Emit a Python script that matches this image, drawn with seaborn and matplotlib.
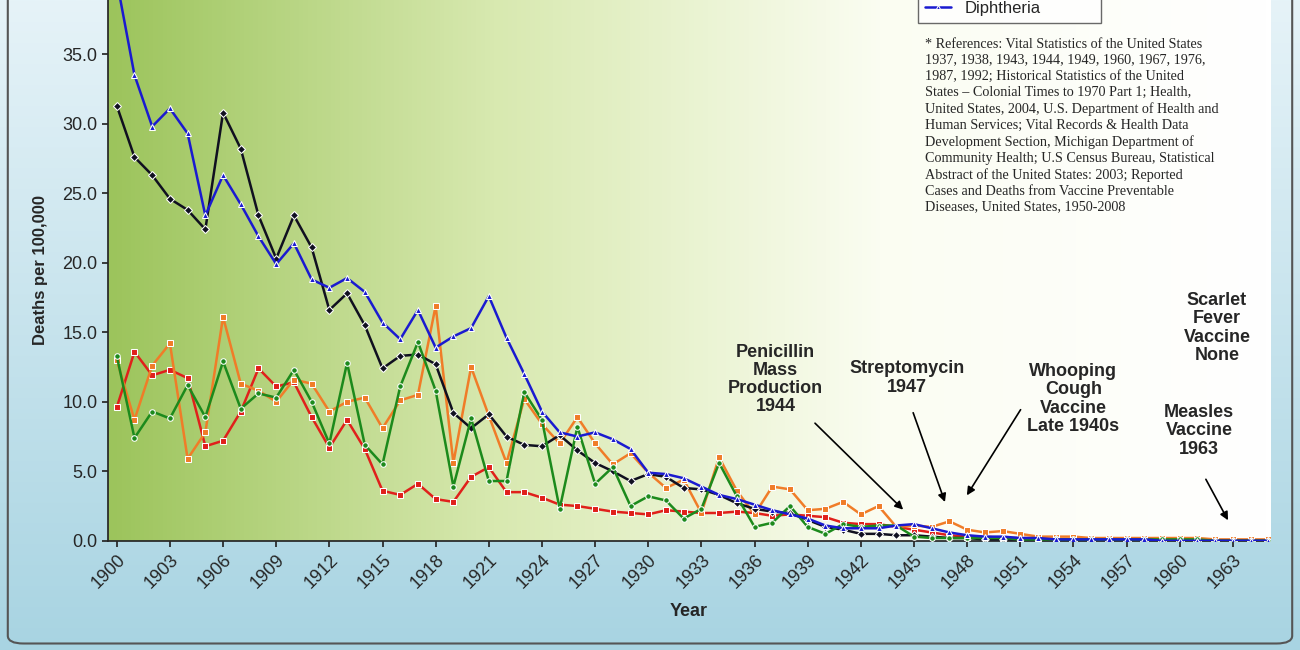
import numpy as np
import matplotlib
matplotlib.use("Agg")
import matplotlib.pyplot as plt
import seaborn as sns
import pandas as pd
from matplotlib.patches import FancyBboxPatch
from matplotlib.colors import LinearSegmentedColormap

years = list(range(1900, 1966))

diphtheria = [40.3, 33.5, 29.8, 31.1, 29.3, 23.4, 26.3, 24.2, 21.9, 19.9, 21.4, 18.8, 18.2, 18.9, 17.9,
              15.7, 14.5, 16.6, 13.9, 14.7, 15.3, 17.6, 14.6, 12.0, 9.3, 7.8, 7.5, 7.8, 7.3, 6.6,
              4.9, 4.8, 4.5, 3.9, 3.3, 3.0, 2.6, 2.2, 1.9, 1.6, 1.1, 0.9, 0.9, 0.9, 1.1, 1.2,
              0.9, 0.6, 0.4, 0.3, 0.3, 0.2, 0.2, 0.1, 0.1, 0.1, 0.1, 0.1, 0.1, 0.0, 0.0, 0.0,
              0.0, 0.0, 0.0, 0.0]
black_series = [31.3, 27.6, 26.3, 24.6, 23.8, 22.4, 30.8, 28.2, 23.4, 20.3, 23.4, 21.1, 16.6, 17.8, 15.5,
                12.4, 13.3, 13.4, 12.7, 9.2, 8.1, 9.1, 7.5, 6.9, 6.8, 7.6, 6.5, 5.6, 5.0, 4.3,
                4.8, 4.6, 3.8, 3.7, 3.3, 2.7, 2.3, 2.1, 2.0, 1.5, 1.0, 0.8, 0.5, 0.5, 0.4, 0.4,
                0.3, 0.2, 0.2, 0.1, 0.1, 0.1, 0.1, 0.1, 0.0, 0.0, 0.0, 0.0, 0.0, 0.0, 0.0, 0.0,
                0.0, 0.0, 0.0, 0.0]
orange_series = [13.0, 8.7, 12.6, 14.2, 5.9, 7.8, 16.1, 11.3, 10.8, 10.0, 11.6, 11.3, 9.3, 10.0, 10.3,
                 8.1, 10.1, 10.5, 16.9, 5.6, 12.5, 9.0, 5.6, 10.2, 8.4, 7.0, 8.9, 7.0, 5.5, 6.3,
                 4.9, 3.8, 4.4, 2.0, 6.0, 3.6, 1.9, 3.9, 3.7, 2.2, 2.3, 2.8, 1.9, 2.5, 1.0, 1.1,
                 1.0, 1.4, 0.8, 0.6, 0.7, 0.5, 0.3, 0.3, 0.3, 0.2, 0.2, 0.2, 0.2, 0.2, 0.2, 0.2,
                 0.1, 0.1, 0.1, 0.1]
green_series = [13.3, 7.4, 9.3, 8.8, 11.2, 8.9, 12.9, 9.5, 10.6, 10.3, 12.3, 10.0, 7.0, 12.8, 6.9,
                5.5, 11.1, 14.3, 10.8, 3.9, 8.8, 4.3, 4.3, 10.7, 8.7, 2.3, 8.2, 4.1, 5.3, 2.5,
                3.2, 2.9, 1.6, 2.3, 5.6, 3.2, 1.0, 1.3, 2.5, 1.0, 0.5, 1.2, 1.0, 1.1, 1.1, 0.3,
                0.2, 0.2, 0.2, 0.2, 0.2, 0.1, 0.1, 0.1, 0.1, 0.1, 0.1, 0.1, 0.1, 0.1, 0.1, 0.1,
                0.0, 0.0, 0.0, 0.0]
red_series = [9.6, 13.6, 11.9, 12.3, 11.7, 6.8, 7.2, 9.3, 12.4, 11.1, 11.4, 8.9, 6.7, 8.7, 6.6,
              3.6, 3.3, 4.1, 3.0, 2.8, 4.6, 5.3, 3.5, 3.5, 3.1, 2.6, 2.5, 2.3, 2.1, 2.0,
              1.9, 2.2, 2.1, 2.0, 2.0, 2.1, 2.0, 1.8, 1.9, 1.8, 1.7, 1.3, 1.2, 1.2, 1.0, 0.8,
              0.6, 0.4, 0.3, 0.3, 0.2, 0.2, 0.2, 0.1, 0.1, 0.1, 0.1, 0.1, 0.1, 0.1, 0.1, 0.1,
              0.0, 0.0, 0.0, 0.0]

series = {
    "Measles": (red_series, "#e0201b", "s"),
    "Scarlet Fever": (orange_series, "#f07c28", "s"),
    "Typhoid": (black_series, "#101020", "D"),
    "Whooping Cough": (green_series, "#1c8a1c", "o"),
    "Diphtheria": (diphtheria, "#1a1ad0", "^"),
}

ref_text = ("* References: Vital Statistics of the United States\n"
            "1937, 1938, 1943, 1944, 1949, 1960, 1967, 1976,\n"
            "1987, 1992; Historical Statistics of the United\n"
            "States \u2013 Colonial Times to 1970 Part 1; Health,\n"
            "United States, 2004, U.S. Department of Health and\n"
            "Human Services; Vital Records & Health Data\n"
            "Development Section, Michigan Department of\n"
            "Community Health; U.S Census Bureau, Statistical\n"
            "Abstract of the United States: 2003; Reported\n"
            "Cases and Deaths from Vaccine Preventable\n"
            "Diseases, United States, 1950-2008")

sns.set_theme(style="white")
plt.rcParams["font.family"] = ["Liberation Sans", "DejaVu Sans"]

fig = plt.figure(figsize=(13, 6.5), dpi=100)

# figure background gradient (light blue)
bg = fig.add_axes([0, 0, 1, 1], zorder=-10)
grad = np.linspace(0, 1, 256).reshape(-1, 1)
bg.imshow(grad, aspect="auto", extent=[0, 1, 0, 1], origin="lower",
          cmap=LinearSegmentedColormap.from_list("b", ["#a8d4e2", "#e6f3f8"]))
bg.set_axis_off()
fig.patches.append(FancyBboxPatch((0.006, 0.01), 0.988, 1.05, boxstyle="round,pad=0,rounding_size=0.012",
                                  transform=fig.transFigure, fill=False, edgecolor="#555555", lw=1.5))

ax = fig.add_axes([0.083, 0.168, 0.894, 0.832])
xmin, xmax, ymax = 1899.5, 1965.1, 38.9
hgrad = np.linspace(0, 1, 256).reshape(1, -1)
ax.imshow(hgrad, aspect="auto", extent=[xmin, xmax, 0, ymax], zorder=0,
          cmap=LinearSegmentedColormap.from_list("g", ["#9cc45c", "#d8e9b0", "#fbfdf2", "#ffffff"]))

df = pd.DataFrame({"Year": years})
for name, (vals, color, marker) in series.items():
    df[name] = vals
long = df.melt(id_vars="Year", var_name="Disease", value_name="Deaths")
palette = {k: v[1] for k, v in series.items()}
markers = {k: v[2] for k, v in series.items()}
sns.lineplot(data=long, x="Year", y="Deaths", hue="Disease", style="Disease",
             palette=palette, markers=markers, dashes=False, markersize=4,
             linewidth=1.8, ax=ax, zorder=3)

ax.set_xlim(xmin, xmax)
ax.set_ylim(0, ymax)
ax.set_xticks(range(1900, 1964, 3))
ax.set_xticklabels([str(y) for y in range(1900, 1964, 3)], rotation=45, ha="right",
                   rotation_mode="anchor", fontsize=13)
ax.set_yticks(np.arange(0, 36, 5))
ax.set_yticklabels([f"{v:.1f}" for v in np.arange(0, 36, 5)], fontsize=13)
ax.tick_params(axis="both", length=4, direction="out", bottom=True, left=True)
ax.set_xlabel("Year", fontsize=13, fontweight="bold", labelpad=8)
ax.set_ylabel("Deaths per 100,000", fontsize=12, fontweight="bold", labelpad=10)
for s in ["top", "right"]:
    ax.spines[s].set_visible(False)

leg = ax.legend(loc="lower left", bbox_to_anchor=(0.697, 0.958), fontsize=12, frameon=True,
                fancybox=False, edgecolor="#444444", handlelength=1.6, borderaxespad=0)
leg.get_frame().set_linewidth(1.0)
leg.set_zorder(10)
for line in leg.get_lines():
    line.set_markersize(3)

ax.text(1945.6, 36.2, ref_text, fontsize=10.2, family=["Liberation Serif", "DejaVu Serif"],
        va="top", ha="left", linespacing=1.3, zorder=5)

notes = [
    ("Penicillin\nMass\nProduction\n1944", (1937.2, 11.6), (1939.3, 8.6), (1944.5, 2.1)),
    ("Streptomycin\n1947", (1944.6, 11.7), (1944.9, 9.4), (1946.8, 2.6)),
    ("Whooping\nCough\nVaccine\nLate 1940s", (1954.0, 10.2), (1951.1, 9.6), (1947.9, 3.1)),
    ("Measles\nVaccine\n1963", (1961.1, 7.9), (1961.4, 4.6), (1962.8, 1.3)),
]
for txt, pos, tail, head in notes:
    ax.text(pos[0], pos[1], txt, ha="center", va="center", fontsize=13, fontweight="bold",
            linespacing=1.1, zorder=6)
    ax.annotate("", xy=head, xytext=tail, zorder=6,
                arrowprops=dict(arrowstyle="-|>", color="black", lw=1.2, mutation_scale=12))
ax.text(1962.1, 15.3, "Scarlet\nFever\nVaccine\nNone", ha="center", va="center", fontsize=13,
        fontweight="bold", linespacing=1.1, zorder=6)

fig.savefig("out.png", dpi=100)
